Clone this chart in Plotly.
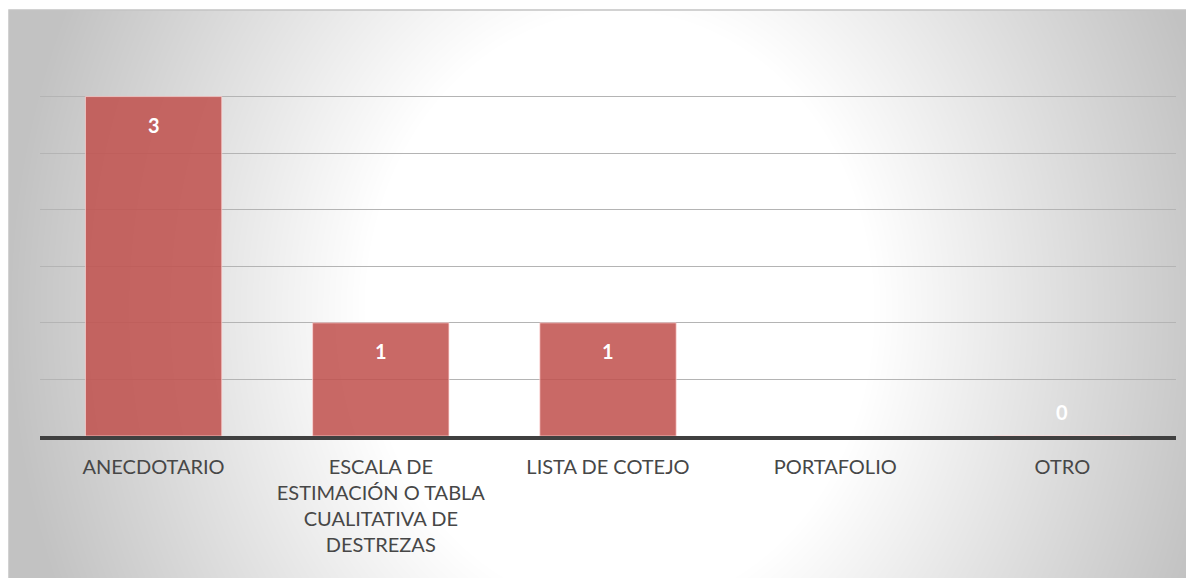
import base64
import struct
import zlib

import numpy as np
import plotly.graph_objects as go

# data
categories = ["ANECDOTARIO",
              "ESCALA DE ESTIMACIÓN O TABLA CUALITATIVA DE DESTREZAS",
              "LISTA DE COTEJO",
              "PORTAFOLIO",
              "OTRO"]
tick_labels = ["ANECDOTARIO",
               "ESCALA DE<br>ESTIMACIÓN O TABLA<br>CUALITATIVA DE<br>DESTREZAS",
               "LISTA DE COTEJO",
               "PORTAFOLIO",
               "OTRO"]
values = [3, 1, 1, None, 0]

# page draws the figure 8px in from the top-left corner
OFF = 8
W, H = 1194, 578
M_L, M_R, M_T, M_B = 40 - OFF, 18 + OFF, 40 - OFF, 142 + OFF
FRAME_X0, FRAME_Y0 = 9 - OFF, 10 - OFF


def gradient_png(w, h):
    # radial grey -> white fill like the Office chart area
    ys, xs = np.mgrid[0:h, 0:w].astype(float)
    cx, cy = 610, 300
    r = np.sqrt((xs - cx) ** 2 + ((ys - cy) * 0.85) ** 2)
    g = 255 - 0.17 * np.clip(r - 255, 0, None)
    g = np.clip(g, 194, 255).astype(np.uint8)
    raw = b"".join(b"\x00" + row.tobytes() for row in g)

    def chunk(tag, data):
        c = struct.pack(">I", len(data)) + tag + data
        return c + struct.pack(">I", zlib.crc32(tag + data) & 0xffffffff)

    png = b"\x89PNG\r\n\x1a\n"
    png += chunk(b"IHDR", struct.pack(">IIBBBBB", w, h, 8, 0, 0, 0, 0))
    png += chunk(b"IDAT", zlib.compress(raw, 9))
    png += chunk(b"IEND", b"")
    return "data:image/png;base64," + base64.b64encode(png).decode()


plot_w = W - M_L - M_R
plot_h = H - M_T - M_B
fw, fh = W - FRAME_X0, H - FRAME_Y0


def px_x(x):
    return (x - M_L) / plot_w


def px_y(y):
    return (H - M_B - y) / plot_h


fig = go.Figure()

fig.add_trace(go.Bar(
    x=categories,
    y=values,
    marker=dict(color="rgba(192,80,77,0.86)",
                line=dict(color="rgba(255,215,215,0.7)", width=1)),
    hoverinfo="x+y",
))

# data labels
for cat, v in zip(categories, values):
    if v is None:
        continue
    fig.add_annotation(
        x=cat, y=v, text=str(v), showarrow=False,
        yanchor="middle", yshift=-28 if v > 0 else 24,
        font=dict(family="Lato", size=20, color="white", weight="bold"),
    )

fig.add_layout_image(
    source=gradient_png(fw, fh),
    xref="paper", yref="paper",
    x=px_x(FRAME_X0), y=px_y(FRAME_Y0),
    sizex=fw / plot_w, sizey=fh / plot_h,
    sizing="stretch", xanchor="left", yanchor="top",
    layer="below",
)

fig.add_shape(
    type="rect", xref="paper", yref="paper",
    x0=px_x(FRAME_X0), x1=px_x(W + 5),
    y0=px_y(H + 5), y1=px_y(FRAME_Y0),
    line=dict(color="#c4c4c4", width=1.5),
    fillcolor="rgba(0,0,0,0)", layer="below",
)

fig.update_layout(
    width=W, height=H,
    margin=dict(l=M_L, r=M_R, t=M_T, b=M_B),
    paper_bgcolor="white",
    plot_bgcolor="rgba(0,0,0,0)",
    bargap=0.4,
    showlegend=False,
    font=dict(family="Lato", color="#474747"),
)

fig.update_xaxes(
    tickvals=categories, ticktext=tick_labels,
    showline=True, linecolor="#404040", linewidth=3.5,
    showgrid=False, ticks="", ticklabelstandoff=10,
    tickfont=dict(family="Lato", size=20, color="#474747"),
)

fig.update_yaxes(
    range=[0, 3.5], dtick=0.5,
    showgrid=True, gridcolor="#b4b4b4", gridwidth=1.2,
    zeroline=False, showticklabels=False, ticks="",
)

fig.write_html("out.html")
